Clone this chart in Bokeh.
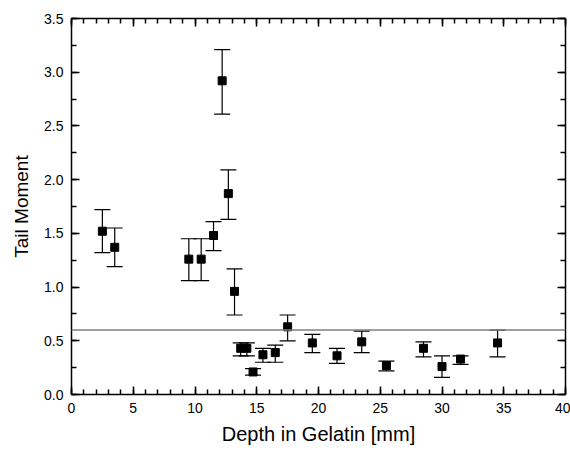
import numpy as np
from bokeh.plotting import figure
from bokeh.models import (Range1d, LinearAxis, FixedTicker, NumeralTickFormatter,
                          ColumnDataSource, Whisker, TeeHead, Span, CustomJSTickFormatter)
from bokeh.embed import file_html
from bokeh.resources import INLINE

# Data
depth = [2.5, 3.5, 9.5, 10.5, 11.5, 12.2, 12.7, 13.2, 13.7, 14.2, 14.7,
         15.5, 16.5, 17.5, 19.5, 21.5, 23.5, 25.5, 28.5, 30.0, 31.5, 34.5]
tail_moment = [1.52, 1.37, 1.26, 1.26, 1.48, 2.92, 1.87, 0.96, 0.43, 0.43, 0.21,
               0.37, 0.39, 0.63, 0.48, 0.36, 0.49, 0.27, 0.43, 0.26, 0.33, 0.48]
err_upper = [1.72, 1.55, 1.45, 1.45, 1.61, 3.21, 2.09, 1.17, 0.48, 0.48, 0.24,
             0.43, 0.46, 0.74, 0.56, 0.43, 0.59, 0.31, 0.49, 0.36, 0.36, 0.60]
err_lower = [1.32, 1.19, 1.06, 1.06, 1.34, 2.61, 1.63, 0.74, 0.36, 0.36, 0.18,
             0.30, 0.30, 0.50, 0.39, 0.29, 0.39, 0.22, 0.35, 0.16, 0.28, 0.35]
threshold = 0.6

# Tick values
x_ticks = [0, 5, 10, 15, 20, 25, 30, 35, 40]
y_ticks = [0.0, 0.5, 1.0, 1.5, 2.0, 2.5, 3.0, 3.5]
x_minor = [float(v) for v in np.arange(0, 40.5, 1.0)]
y_minor = [float(v) for v in np.arange(0, 3.55, 0.25)]

x_label = "Depth in Gelatin [mm]"
y_label = "Tail Moment"

FONT = "Liberation Sans"

p = figure(width=570, height=450, output_backend="svg", toolbar_location=None,
           x_range=Range1d(x_ticks[0], x_ticks[-1]), y_range=Range1d(y_ticks[0], y_ticks[-1]),
           x_axis_label=x_label, y_axis_label=y_label,
           min_border_left=71, min_border_top=18, min_border_right=5, min_border_bottom=56)
p.grid.visible = False
p.outline_line_color = None
p.background_fill_color = "white"
p.border_fill_color = "white"

xt = FixedTicker(ticks=x_ticks, minor_ticks=x_minor)
yt = FixedTicker(ticks=y_ticks, minor_ticks=y_minor)
p.xaxis.ticker = xt
p.yaxis.ticker = yt
p.yaxis.formatter = NumeralTickFormatter(format="0.0")

def style(ax):
    ax.axis_line_color = "black"
    ax.axis_line_width = 1.5
    ax.major_tick_line_color = "black"
    ax.minor_tick_line_color = "black"
    ax.major_tick_line_width = 1.5
    ax.minor_tick_line_width = 1.5
    ax.major_tick_in = 8
    ax.major_tick_out = 0
    ax.minor_tick_in = 5
    ax.minor_tick_out = 0
    ax.major_label_text_font = FONT
    ax.major_label_text_font_size = "14px"
    ax.major_label_text_color = "black"
    ax.axis_label_text_font = FONT
    ax.axis_label_text_font_style = "normal"
    ax.axis_label_text_color = "black"
    ax.major_label_standoff = 8

for ax in p.xaxis + p.yaxis:
    style(ax)
p.xaxis.axis_label_text_font_size = "20px"
p.yaxis.axis_label_text_font_size = "19px"
p.xaxis.axis_label_standoff = 7
p.yaxis.axis_label_standoff = 9

top = LinearAxis(ticker=xt, formatter=CustomJSTickFormatter(code="return ''"))
right = LinearAxis(ticker=yt, formatter=CustomJSTickFormatter(code="return ''"))
for ax in (top, right):
    style(ax)
    ax.major_label_standoff = 0
    ax.major_label_text_font_size = "1px"
p.add_layout(top, "above")
p.add_layout(right, "right")

src = ColumnDataSource(dict(x=depth, y=tail_moment, upper=err_upper, lower=err_lower))

p.add_layout(Span(location=threshold, dimension="width", line_color="#7f7f7f", line_width=1.5))

w = Whisker(source=src, base="x", upper="upper", lower="lower", dimension="height",
            line_color="black", line_width=1.2,
            upper_head=TeeHead(size=16, line_color="black", line_width=1.2),
            lower_head=TeeHead(size=16, line_color="black", line_width=1.2))
p.add_layout(w)

p.scatter("x", "y", source=src, marker="square", size=8, color="black")

open("out.html", "w").write(file_html(p, INLINE))
